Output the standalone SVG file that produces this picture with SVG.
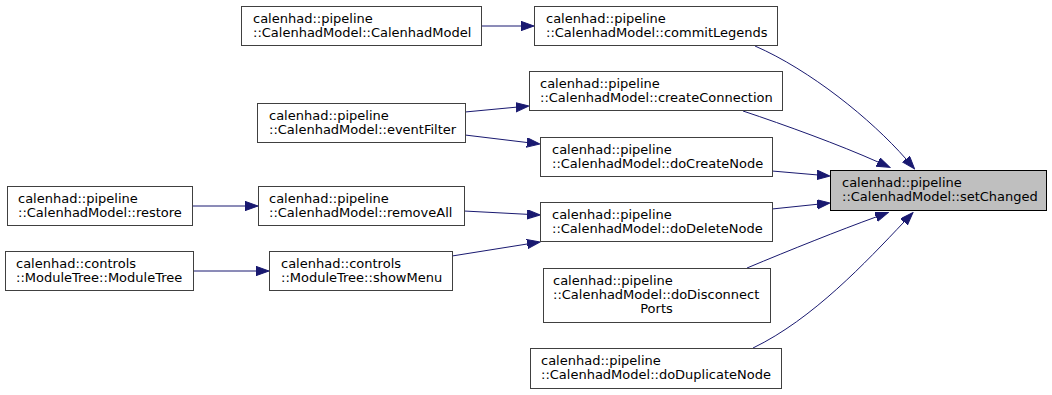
<svg xmlns="http://www.w3.org/2000/svg" width="1052" height="395" viewBox="0 0 1052 395">
  <style>
    .node rect { fill: #ffffff; stroke: #404040; stroke-width: 1; }
    .root rect { fill: #bfbfbf; stroke: #000000; stroke-width: 1; }
    text { font-family: "DejaVu Sans", "Noto Sans", sans-serif; font-size: 13px; fill: #000000; }
    .edge { fill: none; stroke: #191970; stroke-width: 1; marker-end: url(#arrow); }
  </style>
  <defs>
    <marker id="arrow" markerUnits="userSpaceOnUse" markerWidth="14" markerHeight="10" refX="0" refY="4.65" orient="auto">
      <path d="M0,0 L13,4.65 L0,9.3 Z" fill="#191970" stroke="#191970" stroke-width="1"/>
    </marker>
  </defs>
  <rect width="1052" height="395" fill="#ffffff"/>

  <!-- connectors: caller -> callee -->
  <g id="edges">
    <path class="edge" d="M481,26 L521,26"/>
    <path class="edge" d="M465,112 L516,107.2"/>
    <path class="edge" d="M465,135 L527,142.5"/>
    <path class="edge" d="M192,206 L245,206"/>
    <path class="edge" d="M464,211 L527,214.3"/>
    <path class="edge" d="M193,271 L256,271"/>
    <path class="edge" d="M452,256 L527.2,244"/>
    <path class="edge" d="M772,171 L817,174.9"/>
    <path class="edge" d="M772,209 L817.1,204.3"/>
    <path class="edge" d="M755,46 C810,70 871,119 906,159"/>
    <path class="edge" d="M743,111 C785,125 840,145 878,162"/>
    <path class="edge" d="M747,268 C790,250 840,230 876,217"/>
    <path class="edge" d="M753,348 C813,319 866,262 904,222"/>
  </g>

  <g id="node-CalenhadModel" class="node">
    <rect x="241.5" y="6.5" width="240" height="39"/>
    <text x="253" y="23">calenhad::pipeline</text>
    <text x="253" y="37">::CalenhadModel::CalenhadModel</text>
  </g>
  <g id="node-commitLegends" class="node">
    <rect x="534.5" y="6.5" width="243" height="39"/>
    <text x="546" y="23">calenhad::pipeline</text>
    <text x="546" y="37">::CalenhadModel::commitLegends</text>
  </g>
  <g id="node-createConnection" class="node">
    <rect x="529.5" y="71.5" width="253" height="39"/>
    <text x="540" y="88">calenhad::pipeline</text>
    <text x="540" y="102">::CalenhadModel::createConnection</text>
  </g>
  <g id="node-eventFilter" class="node">
    <rect x="257.5" y="103.5" width="208" height="39"/>
    <text x="269" y="120">calenhad::pipeline</text>
    <text x="269" y="134">::CalenhadModel::eventFilter</text>
  </g>
  <g id="node-doCreateNode" class="node">
    <rect x="540.5" y="137.5" width="232" height="39"/>
    <text x="552" y="154">calenhad::pipeline</text>
    <text x="552" y="168">::CalenhadModel::doCreateNode</text>
  </g>
  <g id="node-setChanged" class="root">
    <rect x="830.5" y="170.5" width="216" height="40"/>
    <text x="842" y="187">calenhad::pipeline</text>
    <text x="842" y="201">::CalenhadModel::setChanged</text>
  </g>
  <g id="node-restore" class="node">
    <rect x="7.5" y="186.5" width="185" height="39"/>
    <text x="18" y="203">calenhad::pipeline</text>
    <text x="18" y="217">::CalenhadModel::restore</text>
  </g>
  <g id="node-removeAll" class="node">
    <rect x="258.5" y="186.5" width="206" height="39"/>
    <text x="269" y="203">calenhad::pipeline</text>
    <text x="269" y="217">::CalenhadModel::removeAll</text>
  </g>
  <g id="node-doDeleteNode" class="node">
    <rect x="540.5" y="202.5" width="232" height="39"/>
    <text x="552" y="219">calenhad::pipeline</text>
    <text x="552" y="233">::CalenhadModel::doDeleteNode</text>
  </g>
  <g id="node-ModuleTree" class="node">
    <rect x="5.5" y="251.5" width="188" height="39"/>
    <text x="16" y="268">calenhad::controls</text>
    <text x="16" y="282">::ModuleTree::ModuleTree</text>
  </g>
  <g id="node-showMenu" class="node">
    <rect x="269.5" y="251.5" width="183" height="39"/>
    <text x="281" y="268">calenhad::controls</text>
    <text x="281" y="282">::ModuleTree::showMenu</text>
  </g>
  <g id="node-doDisconnectPorts" class="node">
    <rect x="543.5" y="268.5" width="227" height="54"/>
    <text x="553" y="285">calenhad::pipeline</text>
    <text x="553" y="299">::CalenhadModel::doDisconnect</text>
    <text x="656.5" y="313" text-anchor="middle">Ports</text>
  </g>
  <g id="node-doDuplicateNode" class="node">
    <rect x="530.5" y="348.5" width="251" height="40"/>
    <text x="541" y="365">calenhad::pipeline</text>
    <text x="541" y="379">::CalenhadModel::doDuplicateNode</text>
  </g>
</svg>
